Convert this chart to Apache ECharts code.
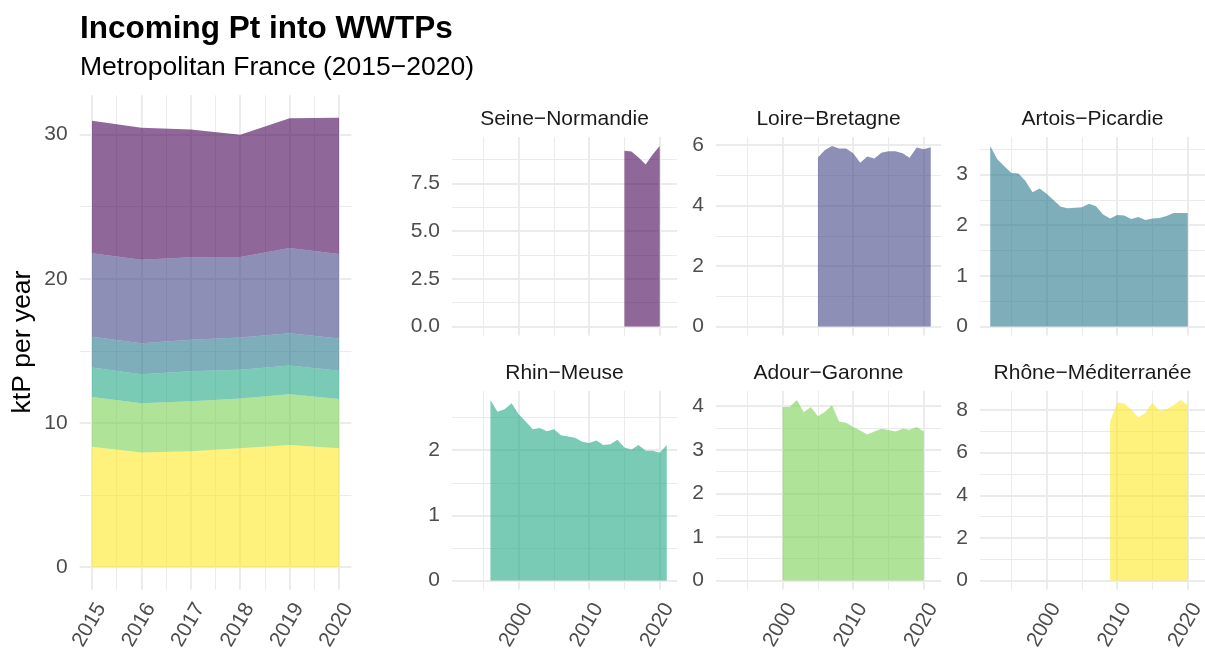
<!DOCTYPE html>
<html>
<head>
<meta charset="utf-8">
<script src="https://cdn.jsdelivr.net/npm/echarts@6/dist/echarts.min.js"></script>
<style>
html,body{margin:0;padding:0;background:#ffffff;}
#chart{width:1205px;height:653px;}
</style>
</head>
<body>
<div id="chart"></div>
<script>
// ---------------- data ----------------
const basinNames = ['Seine−Normandie', 'Loire−Bretagne', 'Artois−Picardie', 'Rhin−Meuse', 'Adour−Garonne', 'Rhône−Méditerranée'];
const basinColors = ['#440154', '#414487', '#2A788E', '#22A884', '#7AD151', '#FDE725'];

const snYears = [2015, 2016, 2017, 2018, 2019, 2020];
const snValues = [9.2, 9.16, 8.85, 8.48, 9.0, 9.45];

const lbYears = [2005, 2006, 2007, 2008, 2009, 2010, 2011, 2012, 2013, 2014, 2015, 2016, 2017, 2018, 2019, 2020, 2021];
const lbValues = [5.59, 5.84, 5.97, 5.89, 5.89, 5.73, 5.42, 5.62, 5.56, 5.75, 5.8, 5.8, 5.73, 5.58, 5.92, 5.86, 5.93];

const apYears = [1992, 1993, 1994, 1995, 1996, 1997, 1998, 1999, 2000, 2001, 2002, 2003, 2004, 2005, 2006, 2007, 2008, 2009, 2010, 2011, 2012, 2013, 2014, 2015, 2016, 2017, 2018, 2019, 2020];
const apValues = [3.56, 3.30, 3.16, 3.03, 3.02, 2.87, 2.65, 2.72, 2.62, 2.49, 2.36, 2.33, 2.34, 2.35, 2.42, 2.37, 2.21, 2.13, 2.20, 2.19, 2.12, 2.16, 2.10, 2.13, 2.14, 2.18, 2.24, 2.24, 2.24];

const rmYears = [1996, 1997, 1998, 1999, 2000, 2001, 2002, 2003, 2004, 2005, 2006, 2007, 2008, 2009, 2010, 2011, 2012, 2013, 2014, 2015, 2016, 2017, 2018, 2019, 2020, 2021];
const rmValues = [2.77, 2.59, 2.63, 2.72, 2.55, 2.44, 2.32, 2.34, 2.29, 2.32, 2.23, 2.21, 2.19, 2.13, 2.11, 2.15, 2.08, 2.09, 2.16, 2.04, 2.01, 2.08, 1.99, 1.99, 1.96, 2.08];

const agYears = [2000, 2001, 2002, 2003, 2004, 2005, 2006, 2007, 2008, 2009, 2010, 2011, 2012, 2013, 2014, 2015, 2016, 2017, 2018, 2019, 2020];
const agValues = [3.98, 3.98, 4.14, 3.86, 3.98, 3.77, 3.87, 4.02, 3.65, 3.62, 3.52, 3.44, 3.35, 3.42, 3.48, 3.45, 3.42, 3.48, 3.46, 3.52, 3.42];

const rhmYears = [2009, 2010, 2011, 2012, 2013, 2014, 2015, 2016, 2017, 2018, 2019, 2020];
const rhmValues = [7.45, 8.35, 8.31, 8.03, 7.65, 7.87, 8.35, 7.95, 8.03, 8.24, 8.47, 8.24];

const stackYears = [2015, 2016, 2017, 2018, 2019, 2020];

const panelYSteps = [2.5, 2, 1, 1, 1, 2];
const panelYDecimals = [1, 0, 0, 0, 0, 0];

const titleText = 'Incoming Pt into WWTPs';
const subtitleText = 'Metropolitan France (2015−2020)';
const yTitleText = 'ktP per year';

// ---------------- build ----------------
const basinYears = [snYears, lbYears, apYears, rmYears, agYears, rhmYears];
const basinValues = [snValues, lbValues, apValues, rmValues, agValues, rhmValues];

const FONT = '"Liberation Sans", Arial, Helvetica, sans-serif';
const GRID_COL = '#EBEBEB';
const TICK_COL = '#4D4D4D';
const ALPHA = 0.6;

function expand(lo, hi) { const d = (hi - lo) * 0.05; return [lo - d, hi + d]; }
function isMult(v, step) { const q = v / step; return Math.abs(q - Math.round(q)) < 1e-6; }

function makeAxis(dim, gridIndex, range, step, opts) {
  return Object.assign({
    type: 'value', gridIndex: gridIndex,
    min: range[0], max: range[1],
    minInterval: step, maxInterval: step, splitNumber: 5,
    axisLine: { show: false }, axisTick: { show: false },
    minorTick: { show: false, splitNumber: 2 },
    splitLine: { show: true, showMinLine: false, showMaxLine: false, lineStyle: { color: GRID_COL, width: 1.9 } },
    minorSplitLine: { show: true, lineStyle: { color: GRID_COL, width: 1 } }
  }, opts);
}

const grids = [], xAxes = [], yAxes = [], series = [], graphics = [];

// left stacked panel
grids.push({ left: 79.65, top: 95.3, width: 271.75, height: 494.2, containLabel: false, outerBoundsMode: 'none' });
const stackOrder = [5, 4, 3, 2, 1, 0];
let stackMax = 0;
stackYears.forEach(function (yr) {
  let s = 0;
  basinYears.forEach(function (ys, b) { const i = ys.indexOf(yr); if (i >= 0) s += basinValues[b][i]; });
  stackMax = Math.max(stackMax, s);
});
const leftX = expand(stackYears[0], stackYears[stackYears.length - 1]);
const leftY = expand(0, stackMax);
xAxes.push(makeAxis('x', 0, leftX, 1, {
  axisLabel: { show: true, rotate: 60, margin: 10, align: 'right', verticalAlign: 'top', color: TICK_COL, fontSize: 21, fontFamily: FONT,
    showMinLabel: false, showMaxLabel: false,
    formatter: function (v) { return isMult(v, 1) ? String(Math.round(v)) : ''; } }
}));
yAxes.push(makeAxis('y', 0, leftY, 10, {
  axisLabel: { show: true, margin: 12, color: TICK_COL, fontSize: 21, fontFamily: FONT,
    showMinLabel: false, showMaxLabel: false,
    formatter: function (v) { return isMult(v, 10) ? String(Math.round(v)) : ''; } }
}));
stackOrder.forEach(function (b) {
  const ys = basinYears[b], vs = basinValues[b];
  series.push({
    type: 'line', name: basinNames[b], xAxisIndex: 0, yAxisIndex: 0, stack: 'total',
    data: stackYears.map(function (yr) { return [vs[ys.indexOf(yr)], yr]; }),
    encode: { x: 1, y: 0 },
    symbol: 'none', showSymbol: false, silent: true,
    lineStyle: { width: 0, opacity: 0 },
    areaStyle: { color: basinColors[b], opacity: ALPHA }
  });
});

// small panels
const colLefts = [452, 716, 980];
const rowTops = [137, 391];
const panelW = 225, panelH = 198.5;
let allMin = Infinity, allMax = -Infinity;
basinYears.forEach(function (ys) { allMin = Math.min(allMin, ys[0]); allMax = Math.max(allMax, ys[ys.length - 1]); });
const smallX = expand(allMin, allMax);

basinNames.forEach(function (name, b) {
  const r = Math.floor(b / 3), c = b % 3, gi = b + 1;
  grids.push({ left: colLefts[c], top: rowTops[r], width: panelW, height: panelH, containLabel: false, outerBoundsMode: 'none' });
  const vmax = Math.max.apply(null, basinValues[b]);
  const yr = expand(0, vmax);
  const step = panelYSteps[b], dec = panelYDecimals[b];
  xAxes.push(makeAxis('x', gi, smallX, 10, {
    axisLabel: { show: r === 1, rotate: 60, margin: 10, align: 'right', verticalAlign: 'top', color: TICK_COL, fontSize: 21, fontFamily: FONT,
      showMinLabel: false, showMaxLabel: false,
      formatter: function (v) { return isMult(v, 10) ? String(Math.round(v)) : ''; } }
  }));
  yAxes.push(makeAxis('y', gi, yr, step, {
    axisLabel: { show: true, margin: 12, color: TICK_COL, fontSize: 21, fontFamily: FONT,
      showMinLabel: false, showMaxLabel: false,
      formatter: function (v) { return isMult(v, step) ? Math.abs(v).toFixed(dec) : ''; } }
  }));
  series.push({
    type: 'line', name: name, xAxisIndex: gi, yAxisIndex: gi,
    data: basinYears[b].map(function (y, i) { return [y, basinValues[b][i]]; }),
    symbol: 'none', showSymbol: false, silent: true,
    lineStyle: { width: 0, opacity: 0 },
    areaStyle: { color: basinColors[b], opacity: ALPHA }
  });
  graphics.push({
    type: 'text', x: colLefts[c] + panelW / 2, y: rowTops[r] - 18,
    style: { text: name, fill: '#1A1A1A', font: '21px ' + FONT, align: 'center', verticalAlign: 'middle' }
  });
});

graphics.push({ type: 'text', x: 80, y: 29, style: { text: titleText, fill: '#000000', font: 'bold 31.5px ' + FONT, align: 'left', verticalAlign: 'middle' } });
graphics.push({ type: 'text', x: 80, y: 67.5, style: { text: subtitleText, fill: '#000000', font: '26.5px ' + FONT, align: 'left', verticalAlign: 'middle' } });
graphics.push({ type: 'text', x: 23, y: 342, rotation: Math.PI / 2, style: { text: yTitleText, fill: '#000000', font: '26.5px ' + FONT, align: 'center', verticalAlign: 'middle' } });

const chart = echarts.init(document.getElementById('chart'), null, { renderer: 'canvas' });
chart.setOption({
  animation: false,
  backgroundColor: '#ffffff',
  grid: grids,
  xAxis: xAxes,
  yAxis: yAxes,
  series: series,
  graphic: graphics
});
</script>
</body>
</html>
